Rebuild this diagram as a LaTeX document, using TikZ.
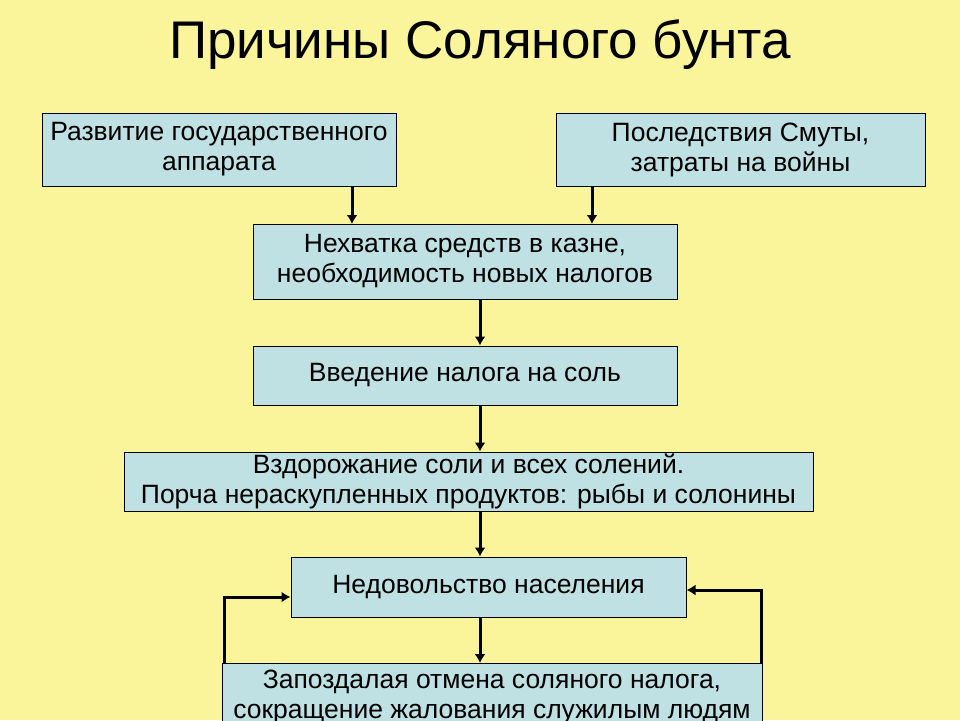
\documentclass[tikz,border=0pt]{standalone}
\usepackage{fontspec}
\setmainfont{Liberation Sans}
\definecolor{bgy}{HTML}{FAF59A}
\definecolor{boxb}{HTML}{C0E1E4}
\begin{document}
\begin{tikzpicture}[x=1pt,y=-1pt,
  bx/.style={draw=black,fill=boxb,line width=1pt,inner sep=0pt,align=center,font=\fontsize{26.5}{30}\selectfont},
  ar/.style={line width=3pt,-{Latex[length=9pt,width=11pt]}}]
\usetikzlibrary{arrows.meta}
\fill[bgy] (0,0) rectangle (960,720);
\useasboundingbox (0,0) rectangle (960,720);
\node[font=\fontsize{53}{56}\selectfont] (title) at (480,45) {Причины Соляного бунта};
\node[bx,minimum width=354pt,minimum height=73pt] (a) at (219,149.5) {Развитие государственного\\аппарата};
\node[bx,minimum width=369pt,minimum height=73pt] (b) at (740.5,149.5) {Последствия Смуты,\\затраты на войны};
\node[bx,minimum width=424pt,minimum height=75pt] (c) at (465,261.5) {Нехватка средств в казне,\\необходимость новых налогов};
\node[bx,minimum width=424pt,minimum height=59pt] (d) at (465,375.5) {Введение налога на соль};
\node[bx,minimum width=689pt,minimum height=59pt] (e) at (468.5,481.5) {Вздорожание соли и всех солений.\\Порча нераскупленных продуктов: рыбы и солонины};
\node[bx,minimum width=395pt,minimum height=60pt] (f) at (488.5,587) {Недовольство населения};
\node[bx,minimum width=540pt,minimum height=66pt,anchor=north] (g) at (492,663) {Запоздалая отмена соляного налога,\\сокращение жалования служилым людям};
\draw[ar] (352,186) -- (352,224);
\draw[ar] (592,186) -- (592,224);
\draw[ar] (c.south -| 480,0) -- (d.north -| 480,0);
\draw[ar] (d.south -| 480,0) -- (e.north -| 480,0);
\draw[ar] (e.south -| 480,0) -- (f.north -| 480,0);
\draw[ar] (f.south -| 480,0) -- (g.north -| 480,0);
\draw[ar] (g.north -| 224,0) -- (224,597) -- (f.west |- 0,597);
\draw[ar] (g.north -| 761,0) -- (761,590) -- (f.east |- 0,590);
\end{tikzpicture}
\end{document}
